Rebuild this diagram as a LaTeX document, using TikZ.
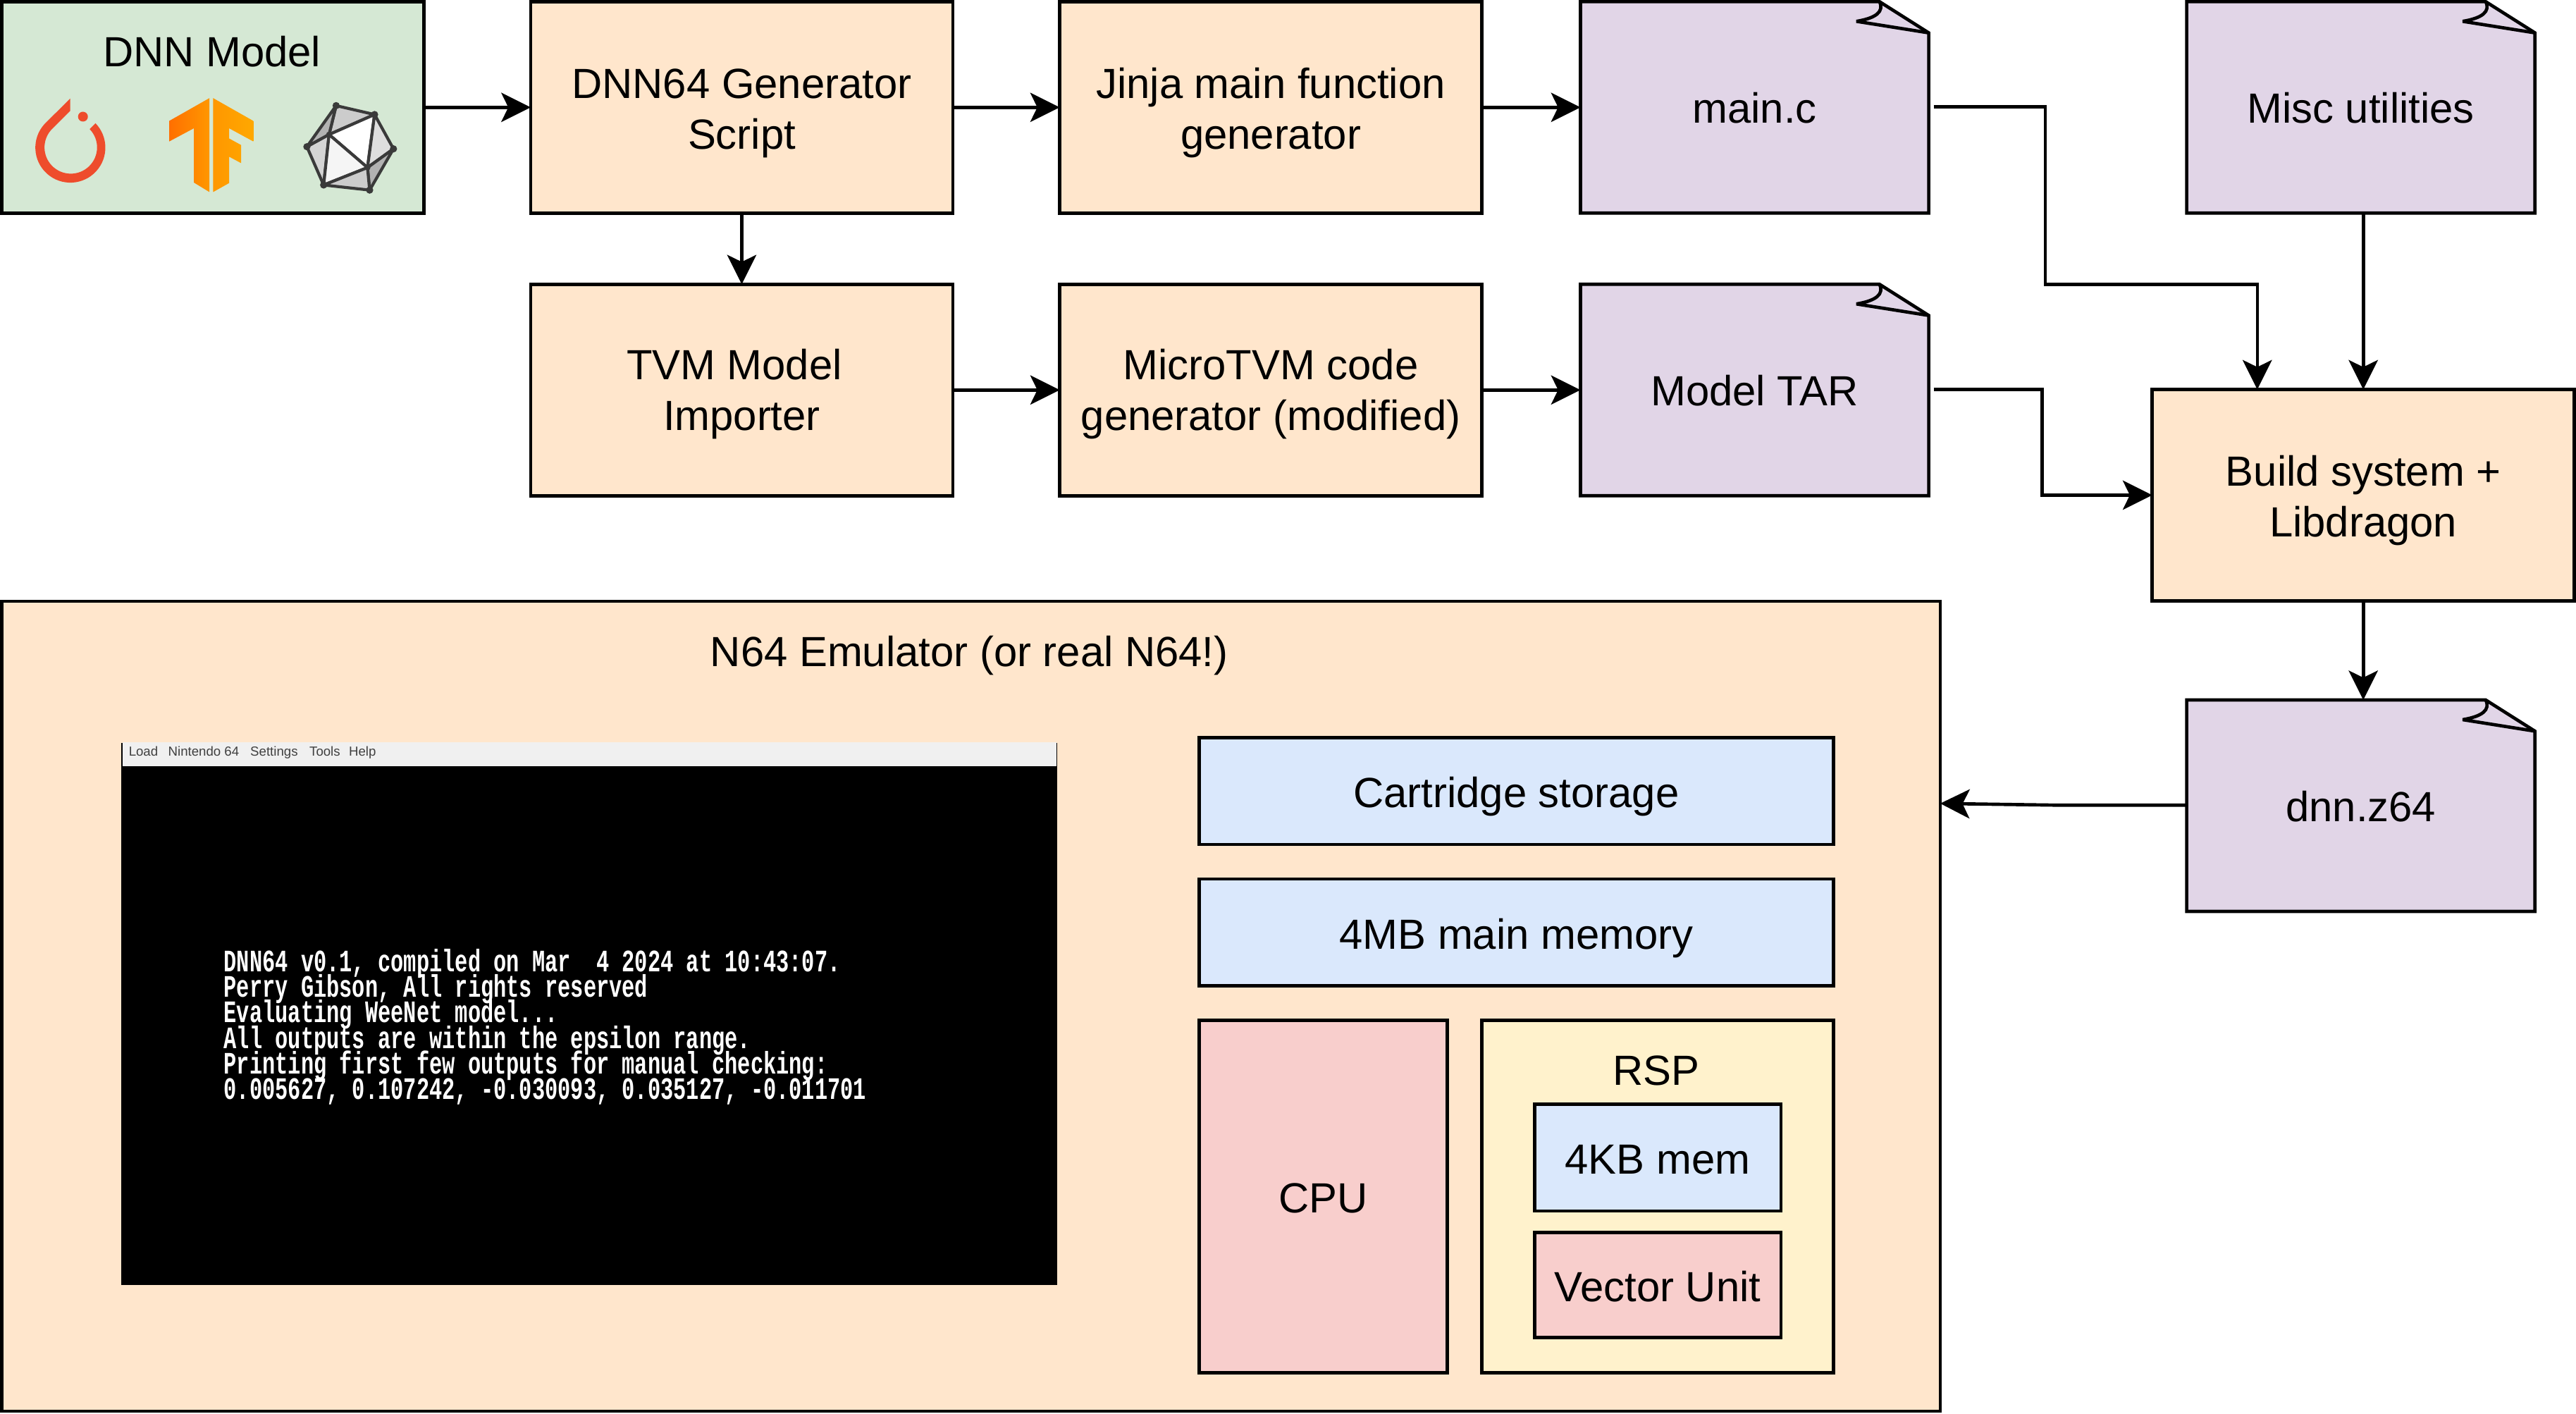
\documentclass[tikz,border=0pt]{standalone}
\usepackage{fontspec}
\setmainfont{Liberation Sans}
\newfontfamily\scrfont{Liberation Mono}
\newcommand{\scrstyle}{\scrfont\bfseries\fontsize{9.5}{7.8}\selectfont\lineskiplimit -20pt\relax}
\usetikzlibrary{arrows.meta}
\definecolor{cgreen}{HTML}{D5E8D4}
\definecolor{corange}{HTML}{FFE6CC}
\definecolor{cpurple}{HTML}{E1D5E7}
\definecolor{cblue}{HTML}{DAE8FC}
\definecolor{cred}{HTML}{F8CECC}
\definecolor{cyellow}{HTML}{FFF2CC}
\definecolor{ptred}{HTML}{EE4C2C}
\definecolor{tfa}{HTML}{FF6F00}
\definecolor{tfb}{HTML}{FFA800}
\definecolor{polyline}{HTML}{3A3A3A}
\tikzset{
  boxed/.style={draw=black,line width=1pt,inner sep=0pt,outer sep=0pt,align=center,font=\fontsize{12.83}{15.5}\selectfont},
  conn/.style={line width=1pt,-{Stealth[length=9pt,width=9pt,inset=2.2pt,line width=0pt]}},
  plain/.style={inner sep=0pt,outer sep=0pt,align=center,font=\fontsize{12.83}{15.5}\selectfont},
  menuitem/.style={inner sep=0pt,anchor=base west,font=\fontsize{4}{4}\selectfont,text=black!75},
  facet/.style={draw=polyline,line width=.9pt,line join=round},
}
% text with fixed top and bottom struts, so that the baselines sit as in the reference
\newcommand{\tl}[1]{\rule{0pt}{13pt}#1\rule[-3pt]{0pt}{3pt}}
% the same, slightly higher
\newcommand{\tlup}[1]{\rule{0pt}{12.4pt}#1\rule[-3.4pt]{0pt}{3.4pt}}
% name, fill, x1, y1, x2, y2, text
\newcommand{\bx}[7]{\node[boxed,fill=#2,minimum width={(#5-#3)*0.5pt},minimum height={(#6-#4)*0.5pt}] (#1) at ({(#3+#5)/2},{(#4+#6)/2}) {#7};}
% document shape: name, x1, y1, text
\newcommand{\doc}[4]{%
  \draw[line width=1pt,line join=miter,fill=cpurple] (#2,#3) -- ++(182,0) -- ++(30,19) -- ++(0,109.7) -- ++(-212,0) -- cycle;
  \draw[line width=1pt,line join=bevel] ({#2+182},#3) .. controls ({#2+185},{#3+6}) and ({#2+180},{#3+10}) .. ({#2+168},{#3+12}) -- ({#2+212},{#3+19});
  \node[plain,minimum width=106pt,minimum height=64pt] (#1) at ({#2+106},{#3+64}) {\tl{#4}};}
\begin{document}
\begin{tikzpicture}[x=0.5pt,y=-0.5pt]
\useasboundingbox (0,0) rectangle (1568,860.2);
% top row
\bx{dnn}{cgreen}{1}{1}{258}{129.7}{}
\node[plain] (dnntitle) at (129,30.5) {\tl{DNN Model}};
\bx{gen}{corange}{323}{1}{580}{129.7}{\tl{DNN64 Generator\\Script}}
\bx{jinja}{corange}{645}{1}{902}{129.7}{\tl{Jinja main function\\generator}}
\doc{mainc}{962}{1}{main.c}
\doc{misc}{1331}{1}{Misc utilities}
% second row
\bx{tvm}{corange}{323}{173}{580}{301.7}{\tlup{TVM Model\hspace{4.5pt}\null\\Importer}}
\bx{micro}{corange}{645}{173}{902}{301.7}{\tlup{MicroTVM code\\generator (modified)}}
\doc{tar}{962}{173}{Model TAR}
\bx{build}{corange}{1310}{237}{1567}{365.7}{\tl{Build system +\\Libdragon}}
\doc{z64}{1331}{426}{dnn.z64}
% emulator
\bx{emu}{corange}{1}{366}{1181}{858.8}{}
\node[plain] (emutitle) at (590,395.5) {\tl{N64 Emulator (or real N64!)}};
\node[fill=black,inner sep=0pt,outer sep=0pt,minimum width=284.75pt,minimum height=165pt] (screen) at (358.75,617) {};
\node[fill=black!6,inner sep=0pt,outer sep=0pt,minimum width=284.25pt,minimum height=7.2pt] (menubar) at (359,459) {};
\node[menuitem] (m1) at (78,460) {Load};
\node[menuitem] (m2) at (102,460) {Nintendo 64};
\node[menuitem] (m3) at (152,460) {Settings};
\node[menuitem] (m4) at (188,460) {Tools};
\node[menuitem] (m5) at (212,460) {Help};
\node[inner sep=0pt,anchor=north west,align=left,text=white,xscale=.686,transform shape,font=\scrstyle] (shell) at (136,577)
{DNN64 v0.1, compiled on Mar\ \ 4 2024 at 10:43:07.\\
Perry Gibson, All rights reserved\\
Evaluating WeeNet model...\\
All outputs are within the epsilon range.\\
Printing first few outputs for manual checking:\\
0.005627, 0.107242, -0.030093, 0.035127, -0.011701};
\bx{cart}{cblue}{730}{449}{1116}{514}{\tl{Cartridge storage}}
\bx{mem}{cblue}{730}{535}{1116}{600}{\tl{4MB main memory}}
\bx{cpu}{cred}{730}{621}{881}{835.6}{\tl{CPU}}
\bx{rsp}{cyellow}{902}{621}{1116}{835.6}{}
\node[plain] (rsptitle) at (1008,650.5) {\tl{RSP}};
\bx{kb}{cblue}{934}{672}{1084}{737}{\tl{4KB mem}}
\bx{vu}{cred}{934}{750}{1084}{814}{\tl{Vector Unit}}
% PyTorch logo
\fill[ptred] (42.7,60) -- (27,75.6) arc[start angle=222,end angle=-44,radius=21.3] -- (54.6,78.6) arc[start angle=-44,end angle=222,radius=16] -- (42.7,67.5) -- cycle;
\fill[ptred] (50.5,71) circle[radius=3];
% TensorFlow logo
\path[left color=tfa,right color=tfb!70!tfa] (127.5,59.7) -- (103,73.6) -- (103,86.1) -- (118,78.1) -- (118,111.1) -- (127.5,116.9) -- cycle;
\path[left color=tfb!70!tfa,right color=tfb] (129.7,59.7) -- (154.2,73.6) -- (154.2,86.1) -- (139.5,78.1) -- (139.5,84.3) -- (146.8,88.3) -- (146.8,99.3) -- (139.5,95.4) -- (139.5,111.4) -- (129.7,116.9) -- cycle;
% polyhedron logo
\coordinate (pa) at (204.6,64.3);
\coordinate (pb) at (228,69.7);
\coordinate (pc) at (239.5,90.6);
\coordinate (pd) at (225,115.7);
\coordinate (pe) at (197,112.6);
\coordinate (pf) at (186.8,89.3);
\coordinate (pg) at (200.3,81.9);
\coordinate (ph) at (223.7,102);
\filldraw[facet,fill=black!20] (pa) -- (pb) -- (pg) -- cycle;
\filldraw[facet,fill=black!30] (pa) -- (pg) -- (pf) -- cycle;
\filldraw[facet,fill=black!17] (pf) -- (pg) -- (pe) -- cycle;
\filldraw[facet,fill=white] (pg) -- (pb) -- (ph) -- cycle;
\filldraw[facet,fill=black!4] (pg) -- (ph) -- (pe) -- cycle;
\filldraw[facet,fill=black!13] (pb) -- (pc) -- (ph) -- cycle;
\filldraw[facet,fill=black!30] (pc) -- (pd) -- (ph) -- cycle;
\filldraw[facet,fill=black!20] (ph) -- (pd) -- (pe) -- cycle;
\foreach \p in {pa,pb,pc,pd,pe,pf}{\fill[polyline] (\p) circle[radius=2.2];}
\foreach \p in {pg,ph}{\fill[polyline] (\p) circle[radius=1.8];}
% connectors
\draw[conn] (dnn.east) -- (gen.west);
\draw[conn] (gen.east) -- (jinja.west);
\draw[conn] (jinja.east) -- (jinja.east -| mainc.west);
\draw[conn] (gen.south) -- (tvm.north);
\draw[conn] (tvm.east) -- (micro.west);
\draw[conn] (micro.east) -- (micro.east -| tar.west);
\coordinate (mainb2) at (1245,173);
\coordinate (mainb1) at (mainb2 |- mainc.east);
\coordinate (mainb3) at (1374,173);
\coordinate (buildin) at (mainb3 |- build.north);
\draw[conn] ([xshift=1.5pt]mainc.east) -- (mainb1) -- (mainb2) -- (mainb3) -- (buildin);
\draw[conn] (misc.south -| build.north) -- (build.north);
\coordinate (tarb1) at (1243,237);
\coordinate (tarb2) at (tarb1 |- build.west);
\draw[conn] ([xshift=1.5pt]tar.east) -- (tarb1) -- (tarb2) -- (build.west);
\draw[conn] (build.south) -- (build.south |- z64.north);
\coordinate (z64b) at (1250,490);
\coordinate (emuin) at (1181,489);
\draw[conn] (z64.west) -- (z64b) -- (emuin);
\end{tikzpicture}
\end{document}
